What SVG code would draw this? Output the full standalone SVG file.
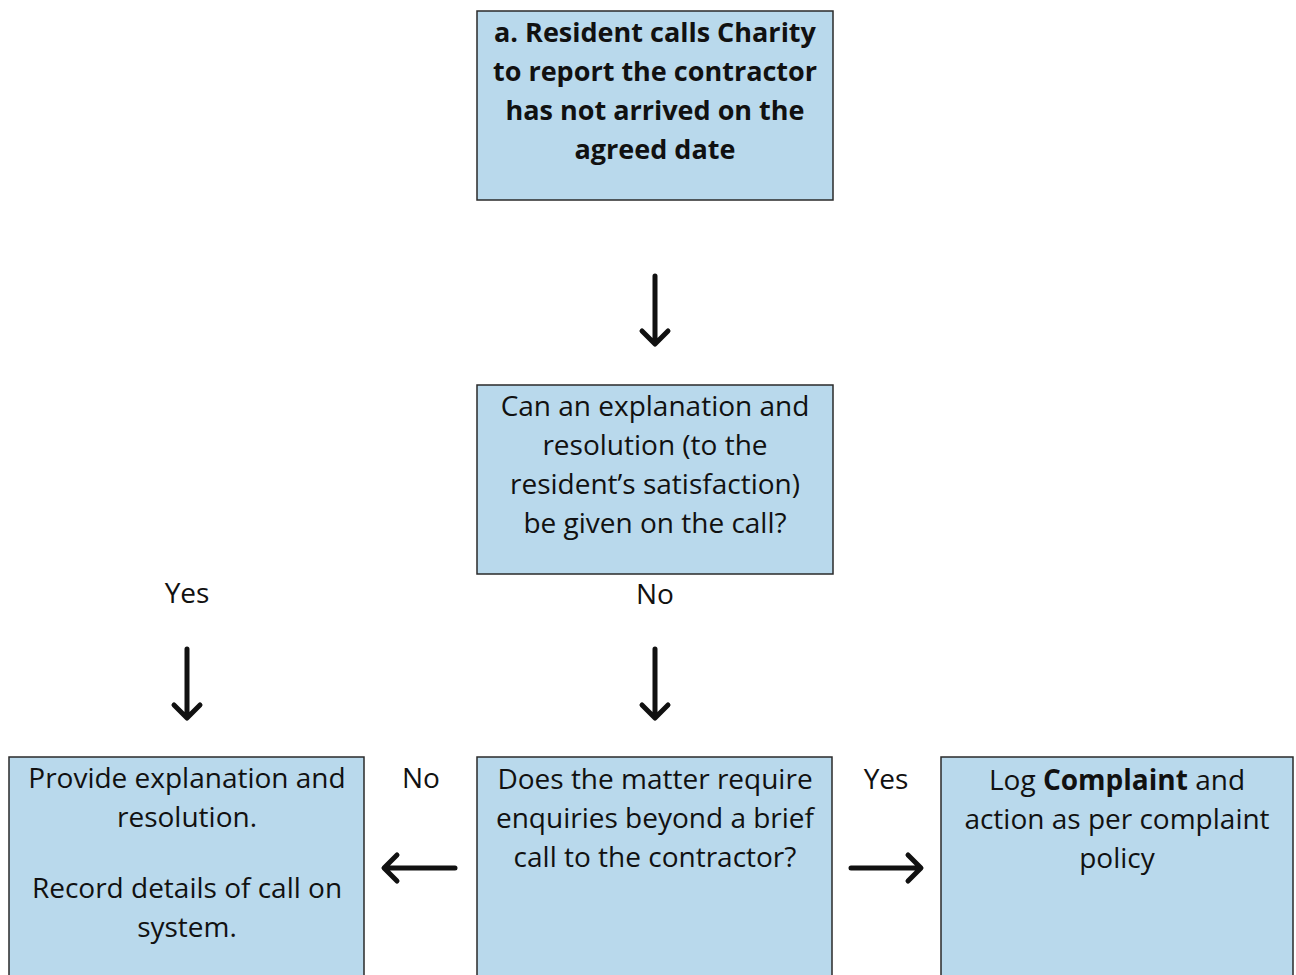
<svg xmlns="http://www.w3.org/2000/svg" width="1296" height="975" viewBox="0 0 1296 975">
<style>
.box{fill:#b9d9ec;stroke:#2a2a2a;stroke-width:1.5}
.t{font-family:"Open Sans",Lato,"Liberation Sans",sans-serif;font-size:28px;font-weight:500;fill:#111;text-anchor:middle}
.b{font-weight:bold;font-size:27px}
.arr{stroke:#111;stroke-width:5;fill:none;stroke-linecap:round;stroke-linejoin:round}
</style>
<rect width="1296" height="975" fill="#ffffff"/>
<g id="node-a">
<rect class="box" x="477" y="11" width="356" height="189"/>
<text class="t b"><tspan x="655" y="42">a. Resident calls Charity</tspan><tspan x="655" y="81">to report the contractor</tspan><tspan x="655" y="120">has not arrived on the</tspan><tspan x="655" y="159">agreed date</tspan></text>
</g>
<g id="node-question1">
<rect class="box" x="477" y="385" width="356" height="189"/>
<text class="t"><tspan x="655" y="416">Can an explanation and</tspan><tspan x="655" y="455">resolution (to the</tspan><tspan x="655" y="494">resident’s satisfaction)</tspan><tspan x="655" y="533">be given on the call?</tspan></text>
</g>
<g id="node-provide">
<rect class="box" x="9" y="757" width="355" height="240"/>
<text class="t"><tspan x="187" y="788">Provide explanation and</tspan><tspan x="187" y="827">resolution.</tspan><tspan x="187" y="898">Record details of call on</tspan><tspan x="187" y="937">system.</tspan></text>
</g>
<g id="node-question2">
<rect class="box" x="477" y="757" width="355" height="240"/>
<text class="t"><tspan x="655" y="789">Does the matter require</tspan><tspan x="655" y="828">enquiries beyond a brief</tspan><tspan x="655" y="867">call to the contractor?</tspan></text>
</g>
<g id="node-complaint">
<rect class="box" x="941" y="757" width="352" height="240"/>
<text class="t"><tspan x="1117" y="790">Log <tspan class="b" style="font-size:28px">Complaint</tspan> and</tspan><tspan x="1117" y="829">action as per complaint</tspan><tspan x="1117" y="868">policy</tspan></text>
</g>
<g id="connectors">
<path class="arr" d="M655 276 V343 M642 331 L655 344 L668 331"/>
<path class="arr" d="M187 649 V717 M174 705 L187 718 L200 705"/>
<path class="arr" d="M655 649 V717 M642 705 L655 718 L668 705"/>
<path class="arr" d="M455 868 H385 M397 855 L384 868 L397 881"/>
<path class="arr" d="M851 868 H920 M908 855 L921 868 L908 881"/>
<text class="t" x="187" y="603">Yes</text>
<text class="t" x="655" y="604">No</text>
<text class="t" x="421" y="788">No</text>
<text class="t" x="886" y="789">Yes</text>
</g>
</svg>
